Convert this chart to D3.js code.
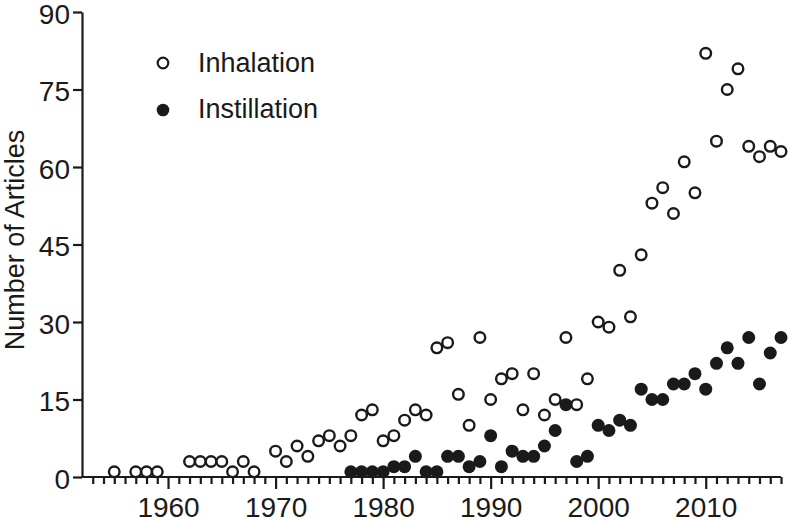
<!DOCTYPE html>
<html>
<head>
<meta charset="utf-8">
<script src="https://cdn.jsdelivr.net/npm/d3@7"></script>
<style>
  body { margin: 0; background: #fff; }
  text { font-family: "Liberation Sans", Arial, sans-serif; fill: #1a1a1a; }
</style>
</head>
<body>
<script>
// publications per year
var inhalationYears = [1955, 1957, 1958, 1959, 1962, 1963, 1964, 1965, 1966, 1967, 1968,
  1970, 1971, 1972, 1973, 1974, 1975, 1976, 1977, 1978, 1979, 1980, 1981, 1982, 1983, 1984,
  1985, 1986, 1987, 1988, 1989, 1990, 1991, 1992, 1993, 1994, 1995, 1996, 1997, 1998, 1999,
  2000, 2001, 2002, 2003, 2004, 2005, 2006, 2007, 2008, 2009, 2010, 2011, 2012, 2013, 2014,
  2015, 2016, 2017];
var inhalationCounts = [1, 1, 1, 1, 3, 3, 3, 3, 1, 3, 1,
  5, 3, 6, 4, 7, 8, 6, 8, 12, 13, 7, 8, 11, 13, 12,
  25, 26, 16, 10, 27, 15, 19, 20, 13, 20, 12, 15, 27, 14, 19,
  30, 29, 40, 31, 43, 53, 56, 51, 61, 55, 82, 65, 75, 79, 64,
  62, 64, 63];

var instillationYears = d3.range(1977, 2018);
var instillationCounts = [1, 1, 1, 1, 2, 2, 4, 1,
  1, 4, 4, 2, 3, 8, 2, 5, 4, 4, 6, 9, 14, 3, 4,
  10, 9, 11, 10, 17, 15, 15, 18, 18, 20, 17, 22, 25, 22, 27,
  18, 24, 27];

var yTicks = [0, 15, 30, 45, 60, 75, 90];
var xMajor = [1960, 1970, 1980, 1990, 2000, 2010];
var seriesNames = ["Inhalation", "Instillation"];

var width = 788, height = 522;
var ink = "#1a1a1a";

var svg = d3.select("body").append("svg")
  .attr("width", width).attr("height", height);

var x = d3.scaleLinear().domain([1952, 2017]).range([82, 781]);
var y = d3.scaleLinear().domain([0, 90]).range([477, 12]);

// x axis: minor ticks every year, major every decade
var minorYears = d3.range(1953, 2018).filter(function (d) { return d % 10 !== 0; });
var xMinor = svg.append("g").attr("transform", "translate(0," + y(0) + ")")
  .call(d3.axisBottom(x).tickValues(minorYears).tickSize(7).tickSizeOuter(0).tickFormat(""));
xMinor.select(".domain").remove();

var xAxis = svg.append("g").attr("transform", "translate(0," + y(0) + ")")
  .call(d3.axisBottom(x).tickValues(xMajor).tickSize(12).tickPadding(8).tickSizeOuter(0).tickFormat(d3.format("d")));

var yAxis = svg.append("g").attr("transform", "translate(" + x(1952) + ",0)")
  .call(d3.axisLeft(y).tickValues(yTicks).tickSize(9).tickPadding(3).tickSizeOuter(0));
yAxis.selectAll(".tick text").attr("dy", "0.4em");

svg.selectAll(".domain, .tick line").attr("stroke", ink).attr("stroke-width", 2.2);
svg.selectAll(".tick text").style("font-size", "28px").attr("fill", ink);
xAxis.select(".domain").attr("d", "M" + x(1952) + ",0H" + x(2017));

svg.append("text")
  .attr("transform", "translate(24,240) rotate(-90)")
  .attr("text-anchor", "middle")
  .style("font-size", "27px")
  .text("Number of Articles");

// points
var inhalation = inhalationYears.map(function (d, i) { return [d, inhalationCounts[i]]; });
var instillation = instillationYears.map(function (d, i) { return [d, instillationCounts[i]]; });

svg.append("g").selectAll("circle").data(instillation).enter().append("circle")
  .attr("cx", function (d) { return x(d[0]); })
  .attr("cy", function (d) { return y(d[1]); })
  .attr("r", 6.5)
  .attr("fill", ink);

svg.append("g").selectAll("circle").data(inhalation).enter().append("circle")
  .attr("cx", function (d) { return x(d[0]); })
  .attr("cy", function (d) { return y(d[1]); })
  .attr("r", 5.3)
  .attr("fill", "#fff")
  .attr("stroke", ink)
  .attr("stroke-width", 2.4);

// legend
var legend = svg.append("g");
legend.append("circle").attr("cx", 163).attr("cy", 63).attr("r", 5.3)
  .attr("fill", "#fff").attr("stroke", ink).attr("stroke-width", 2.2);
legend.append("circle").attr("cx", 163).attr("cy", 110).attr("r", 6.3)
  .attr("fill", ink);
legend.selectAll("text").data(seriesNames).enter().append("text")
  .attr("x", 198)
  .attr("y", function (d, i) { return 72 + i * 46; })
  .style("font-size", "27px")
  .text(function (d) { return d; });
</script>
</body>
</html>
